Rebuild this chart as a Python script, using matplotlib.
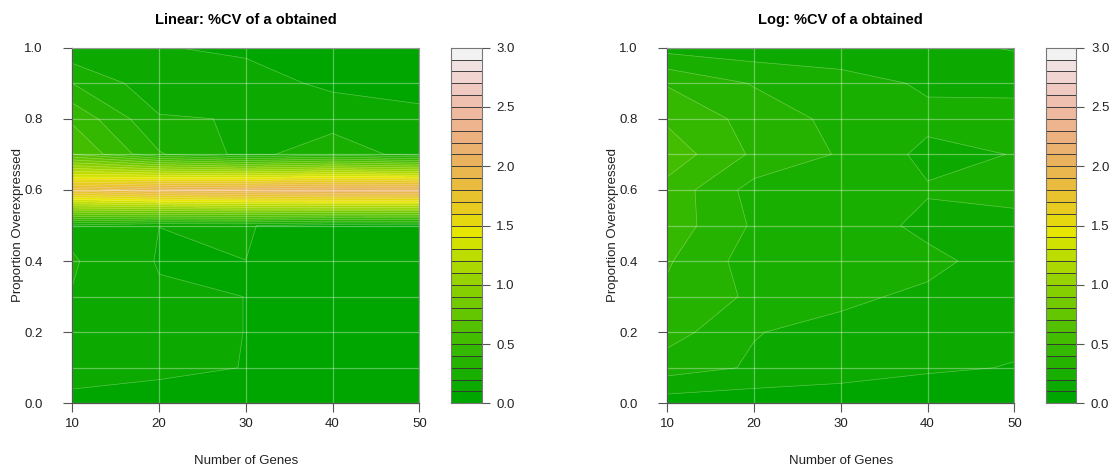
import colorsys
import numpy as np
import matplotlib
matplotlib.use("Agg")
import matplotlib.pyplot as plt

plt.rcParams['font.family'] = ['Liberation Sans', 'DejaVu Sans']

# grid of the simulation
genes = [10, 20, 30, 40, 50]
props = [0.0, 0.1, 0.2, 0.3, 0.4, 0.5, 0.6, 0.7, 0.8, 0.9, 1.0]

# %CV, rows = proportion overexpressed, cols = number of genes
cv_linear = [
    [0.090, 0.080, 0.080, 0.070, 0.070],
    [0.115, 0.110, 0.099, 0.080, 0.080],
    [0.150, 0.115, 0.0995, 0.080, 0.080],
    [0.196, 0.112, 0.0996, 0.080, 0.080],
    [0.210, 0.093, 0.0998, 0.080, 0.080],
    [0.1715, 0.1004, 0.107, 0.050, 0.060],
    [1.85, 2.00, 2.05, 2.10, 2.10],
    [0.606, 0.310, 0.170, 0.258, 0.161],
    [0.480, 0.210, 0.194, 0.160, 0.130],
    [0.300, 0.133, 0.140, 0.080, 0.059],
    [0.121, 0.105, 0.083, 0.070, 0.060],
]

cv_log = [
    [0.049, 0.036, 0.036, 0.020, 0.020],
    [0.245, 0.189, 0.150, 0.116, 0.095],
    [0.345, 0.204, 0.172, 0.150, 0.124],
    [0.380, 0.282, 0.220, 0.180, 0.140],
    [0.411, 0.252, 0.250, 0.228, 0.148],
    [0.459, 0.286, 0.262, 0.172, 0.186],
    [0.465, 0.261, 0.270, 0.209, 0.215],
    [0.560, 0.383, 0.290, 0.173, 0.203],
    [0.483, 0.363, 0.269, 0.227, 0.228],
    [0.391, 0.292, 0.251, 0.183, 0.180],
    [0.163, 0.139, 0.120, 0.130, 0.091],
]

titles = ["Linear: %CV of a obtained", "Log: %CV of a obtained"]
levels = np.round(np.arange(0, 3.01, 0.1), 2)
cbar_ticks = [0.0, 0.5, 1.0, 1.5, 2.0, 2.5, 3.0]


def terrain_colors(n):
    # same as R's terrain.colors()
    k = n // 2
    h1 = np.linspace(4/12, 2/12, k); s1 = np.linspace(1, 1, k); v1 = np.linspace(0.65, 0.9, k)
    m = n - k + 1
    h2 = np.linspace(2/12, 0, m)[1:]; s2 = np.linspace(1, 0, m)[1:]; v2 = np.linspace(0.9, 0.95, m)[1:]
    h = np.concatenate([h1, h2]); s = np.concatenate([s1, s2]); v = np.concatenate([v1, v2])
    return [colorsys.hsv_to_rgb(a, b, c) for a, b, c in zip(h, s, v)]


cols = terrain_colors(len(levels) - 1)

W, H = 1113, 468
fig = plt.figure(figsize=(W/100, H/100), dpi=100)

panels = [(72.3, 451.0), (667.3, 1045.7)]
ax_w, ax_top, ax_bot = 347.0, 47.7, 403.3
cb_w = 30.7

X, Y = np.meshgrid(genes, props)
for (x0, cx0), Z, title in zip(panels, [cv_linear, cv_log], titles):
    Z = np.array(Z)
    ax = fig.add_axes([x0/W, 1 - ax_bot/H, ax_w/W, (ax_bot - ax_top)/H])
    ax.contourf(X, Y, Z, levels=levels, colors=cols)
    ax.contour(X, Y, Z, levels=levels[1:-1], colors='white', linewidths=0.5, alpha=0.3)
    for gx in genes:
        ax.axvline(gx, color='white', lw=0.9, alpha=0.35)
    for gy in props:
        ax.axhline(gy, color='white', lw=0.9, alpha=0.35)
    ax.set_xlim(10, 50)
    ax.set_ylim(0, 1)
    ax.set_xticks(genes)
    ax.set_yticks([0, 0.2, 0.4, 0.6, 0.8, 1.0])
    ax.set_yticklabels(["0.0", "0.2", "0.4", "0.6", "0.8", "1.0"])
    ax.tick_params(direction='out', length=6.5, width=0.8, color='#555555',
                   labelsize=9.5, labelcolor='#222222')
    ax.tick_params(axis='x', pad=4)
    ax.tick_params(axis='y', pad=15)
    for side in ['left', 'bottom']:
        ax.spines[side].set_color('#555555')
        ax.spines[side].set_linewidth(0.9)
    for side in ['top', 'right']:
        ax.spines[side].set_color('#999999')
        ax.spines[side].set_linewidth(0.8)
    ax.set_xlabel("Number of Genes", fontsize=9.5, color='#222222', labelpad=18)
    ax.set_ylabel("Proportion Overexpressed", fontsize=9.5, color='#222222')
    ax.yaxis.set_label_coords(-0.138, 0.5)
    ax.set_title(title, fontsize=10.5, fontweight='bold', pad=17)

    # colour key
    cax = fig.add_axes([cx0/W, 1 - ax_bot/H, cb_w/W, (ax_bot - ax_top)/H])
    cax.bar(0.5, np.diff(levels), bottom=levels[:-1], width=1.0, color=cols,
            edgecolor='#333333', linewidth=0.6, align='center')
    cax.set_xlim(0, 1)
    cax.set_ylim(0, 3)
    cax.set_xticks([])
    cax.yaxis.tick_right()
    cax.set_yticks(cbar_ticks)
    cax.set_yticklabels([f"{t:.1f}" for t in cbar_ticks])
    cax.tick_params(direction='out', length=5.5, width=0.8, color='#555555',
                    labelsize=9.5, labelcolor='#222222', pad=5)
    for sp in cax.spines.values():
        sp.set_color('#777777')
        sp.set_linewidth(0.8)

fig.savefig("out.png", dpi=100)
